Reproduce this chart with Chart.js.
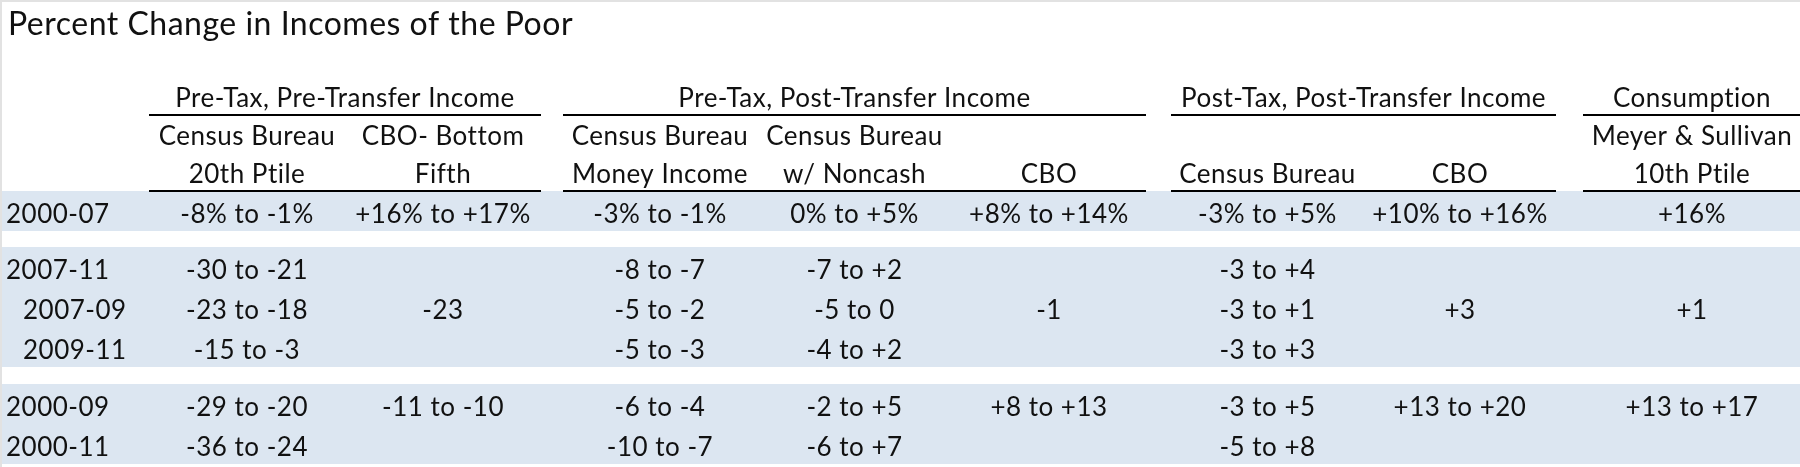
<!DOCTYPE html>
<html>
<head>
<meta charset="utf-8">
<title>Percent Change in Incomes of the Poor</title>
<script src="https://cdn.jsdelivr.net/npm/chart.js@4.4.1/dist/chart.umd.min.js"></script>
<style>
  html, body { margin: 0; padding: 0; background: #fff; }
  #wrap { width: 1800px; height: 467px; }
</style>
</head>
<body>
<div id="wrap"><canvas id="incomeTable" width="1800" height="467"></canvas></div>
<script>
// ---- data ----
const chartTitle = 'Percent Change in Incomes of the Poor';
const groupLabels = ['Pre-Tax, Pre-Transfer Income', 'Pre-Tax, Post-Transfer Income',
                     'Post-Tax, Post-Transfer Income', 'Consumption'];
const groupColumns = [[0, 1], [2, 4], [5, 6], [7, 7]];
const headTop = ['Census Bureau', 'CBO- Bottom', 'Census Bureau', 'Census Bureau', '', '', '', 'Meyer & Sullivan'];
const headBottom = ['20th Ptile', 'Fifth', 'Money Income', 'w/ Noncash', 'CBO', 'Census Bureau', 'CBO', '10th Ptile'];
const periods = ['2000-07', '2007-11', '2007-09', '2009-11', '2000-09', '2000-11'];
const subPeriod = [false, false, true, true, false, false];

const census20th   = ['-8% to -1%', '-30 to -21', '-23 to -18', '-15 to -3', '-29 to -20', '-36 to -24'];
const cboBottom    = ['+16% to +17%', null, '-23', null, '-11 to -10', null];
const censusMoney  = ['-3% to -1%', '-8 to -7', '-5 to -2', '-5 to -3', '-6 to -4', '-10 to -7'];
const censusNoncash = ['0% to +5%', '-7 to +2', '-5 to 0', '-4 to +2', '-2 to +5', '-6 to +7'];
const cboPreTax    = ['+8% to +14%', null, '-1', null, '+8 to +13', null];
const censusPostTax = ['-3% to +5%', '-3 to +4', '-3 to +1', '-3 to +3', '-3 to +5', '-5 to +8'];
const cboPostTax   = ['+10% to +16%', null, '+3', null, '+13 to +20', null];
const meyerSullivan = ['+16%', null, '+1', null, '+13 to +17', null];
const columns = [census20th, cboBottom, censusMoney, censusNoncash, cboPreTax, censusPostTax, cboPostTax, meyerSullivan];

// ---- layout (scale units) ----
const colEdges = [[149, 345], [345, 541], [563, 757], [757, 952], [952, 1146],
                  [1171, 1364], [1364, 1556], [1583, 1801]];
const headRows = [[77, 115], [115, 153], [153, 191]];
const dataRows = [[191, 231], [247, 287], [287, 327], [327, 367], [384, 424], [424, 464]];
const bands = [[191, 231], [247, 367], [384, 464]];
const labelLeft = 6, subIndent = 17, baseLift = 8;
const bandColor = '#dce6f1';
const inkColor = '#111111';
const fontFamily = 'Lato, "Open Sans", sans-serif';
const cellFont = '26px ' + fontFamily;
const titleFont = '32px ' + fontFamily;

const colCenter = c => (colEdges[c][0] + colEdges[c][1]) / 2;
const rowBase = r => dataRows[r][1] - baseLift;

const datasets = columns.map((vals, c) => ({
    label: headBottom[c],
    data: vals.map((v, r) => v === null ? null : { x: colCenter(c), y: rowBase(r), text: v })
              .filter(p => p !== null),
    align: 'center',
    pointRadius: 0
}));
datasets.unshift({
    label: 'Period',
    data: periods.map((p, r) => ({ x: labelLeft + (subPeriod[r] ? subIndent : 0), y: rowBase(r), text: p })),
    align: 'left',
    pointRadius: 0
});

const tablePlugin = {
    id: 'tablePlugin',
    beforeDatasetsDraw(chart) {
        const ctx = chart.ctx;
        const xs = chart.scales.x, ys = chart.scales.y;
        const X = v => xs.getPixelForValue(v), Y = v => ys.getPixelForValue(v);
        ctx.save();
        ctx.fillStyle = '#fff';
        ctx.fillRect(0, 0, chart.width, chart.height);
        // frame
        ctx.fillStyle = '#e2e2e2';
        ctx.fillRect(0, 0, chart.width, 2);
        ctx.fillRect(0, 0, 2, chart.height);

        bands.forEach(b => {
            ctx.fillStyle = bandColor;
            ctx.fillRect(X(0) + 2, Y(b[0]), X(1800) - X(0), Y(b[1]) - Y(b[0]));
        });

        if ('letterSpacing' in ctx) ctx.letterSpacing = '0.5px';

        // title
        ctx.fillStyle = inkColor;
        ctx.font = titleFont;
        ctx.textAlign = 'left';
        ctx.textBaseline = 'alphabetic';
        ctx.fillText(chartTitle, X(8), Y(35));

        // group headers + rules
        ctx.font = cellFont;
        ctx.textAlign = 'center';
        groupColumns.forEach((g, i) => {
            const x0 = colEdges[g[0]][0], x1 = colEdges[g[1]][1];
            ctx.fillStyle = inkColor;
            ctx.fillText(groupLabels[i], X((x0 + x1) / 2), Y(headRows[0][1] - baseLift));
            ctx.fillStyle = '#000';
            [headRows[0][1], headRows[2][1]].forEach(yy => {
                ctx.fillRect(X(x0), Y(yy) - 1, X(x1) - X(x0), 2);
            });
        });
        ctx.fillStyle = inkColor;
        headTop.forEach((t, c) => {
            if (t) ctx.fillText(t, X(colCenter(c)), Y(headRows[1][1] - baseLift));
        });
        headBottom.forEach((t, c) => {
            ctx.fillText(t, X(colCenter(c)), Y(headRows[2][1] - baseLift));
        });
        ctx.restore();
    },
    afterDatasetsDraw(chart) {
        const ctx = chart.ctx;
        ctx.save();
        if ('letterSpacing' in ctx) ctx.letterSpacing = '0.5px';
        ctx.font = cellFont;
        ctx.fillStyle = inkColor;
        ctx.textBaseline = 'alphabetic';
        chart.data.datasets.forEach((ds, i) => {
            const meta = chart.getDatasetMeta(i);
            ctx.textAlign = ds.align;
            meta.data.forEach((pt, j) => {
                ctx.fillText(ds.data[j].text, pt.x, pt.y);
            });
        });
        ctx.restore();
    }
};

function drawTable() {
    const ctx = document.getElementById('incomeTable').getContext('2d');
    new Chart(ctx, {
        type: 'scatter',
        data: { datasets: datasets },
        options: {
            responsive: false,
            animation: false,
            devicePixelRatio: 1,
            layout: { padding: 0 },
            plugins: { legend: { display: false }, tooltip: { enabled: false } },
            scales: {
                x: { type: 'linear', min: 0, max: 1800, display: false },
                y: { type: 'linear', min: 0, max: 467, reverse: true, display: false }
            }
        },
        plugins: [tablePlugin]
    });
}

if (document.fonts && document.fonts.load) {
    document.fonts.load(cellFont).then(drawTable, drawTable);
} else {
    drawTable();
}
</script>
</body>
</html>
